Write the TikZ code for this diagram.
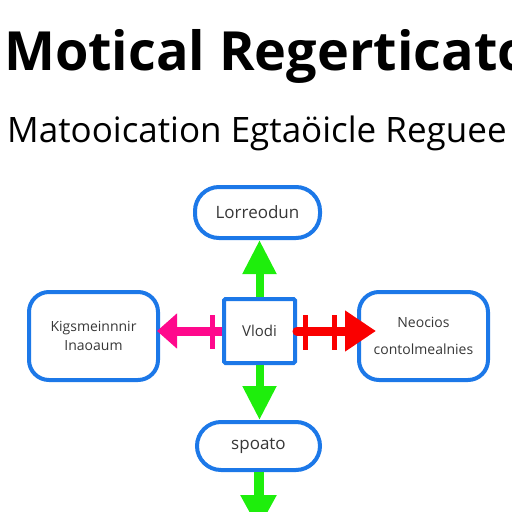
\documentclass[tikz,border=0pt]{standalone}
\usepackage{fontspec}
\setmainfont{Open Sans}
\usepackage{tikz}
\usetikzlibrary{arrows.meta,positioning}
\definecolor{boxblue}{RGB}{28,120,232}
\definecolor{flowgreen}{RGB}{30,238,12}
\definecolor{flowpink}{RGB}{255,8,140}
\definecolor{flowred}{RGB}{250,0,0}
\definecolor{labelgray}{RGB}{55,55,55}

\begin{document}
\begin{tikzpicture}[x=1pt,y=-1pt,>=Latex,
pill box/.style={draw=boxblue,line width=4pt,rounded corners=24pt,minimum width=125pt,minimum height=51pt,inner sep=0pt,font=\fontsize{17}{19}\selectfont,text=labelgray},
side box/.style={draw=boxblue,line width=4pt,rounded corners=20pt,minimum width=129pt,minimum height=88pt,inner sep=0pt,align=center,font=\fontsize{14}{19}\selectfont,text=labelgray},
core box/.style={draw=boxblue,line width=4pt,rounded corners=1.5pt,minimum width=71pt,minimum height=64pt,inner sep=0pt,font=\fontsize{15}{17}\selectfont,text=labelgray},
green flow/.style={draw=flowgreen,line width=8pt,-{Triangle[width=32pt,length=34pt]}},
cross bar/.style={line width=5pt}]
\useasboundingbox (0,0) rectangle (512,512);
\clip (0,0) rectangle (512,512);
% headings
\node[anchor=base west,inner sep=0pt,font=\fontsize{54}{60}\selectfont\bfseries] (title) at (4,70) {Motical Regerticato};
\node[anchor=base west,inner sep=0pt,font=\fontsize{35}{40}\selectfont] (subtitle) at (7,142) {Matooication Egtaöicle Reguee};
% boxes
\node[pill box] (top) at (257.5,212.5) {Lorreodun};
\node[core box] (core) at (259.5,331) {Vlodi};
\node[side box] (left) at (93.5,336) {Kigsmeinnnir\\Inaoaum};
\node[side box,font=\fontsize{14}{27}\selectfont] (right) at (423.5,336) {Neocios\\contolmealnies};
\node[pill box,minimum width=123pt,minimum height=48pt] (bottom) at (258.5,446) {spoato};
\coordinate (exit) at (258.5,529);
% flows
\draw[green flow] (core.north) -- (core.north |- top.south);
\draw[green flow] (core.south) -- (core.south |- bottom.north);
\draw[green flow,line width=10pt,-{Triangle[width=34pt,length=34pt]}] (bottom.south) -- (exit);
\draw[flowpink,line width=9pt,-{Triangle[width=34pt,length=20pt]},shorten >=-3pt] (core.west) -- (core.west -| left.east);
\draw[flowpink,cross bar] ([xshift=-9.5pt,yshift=16pt]core.west) -- ++(0,34);
\draw[flowred,line width=9pt,line cap=round,-{Triangle[width=39pt,length=31pt]},shorten >=-19pt] (core.east) -- (core.east -| right.west);
\draw[flowred,cross bar] ([xshift=8pt,yshift=16pt]core.east) -- ++(0,35);
\draw[flowred,cross bar] ([xshift=37pt,yshift=16pt]core.east) -- ++(0,35);
\end{tikzpicture}
\end{document}
